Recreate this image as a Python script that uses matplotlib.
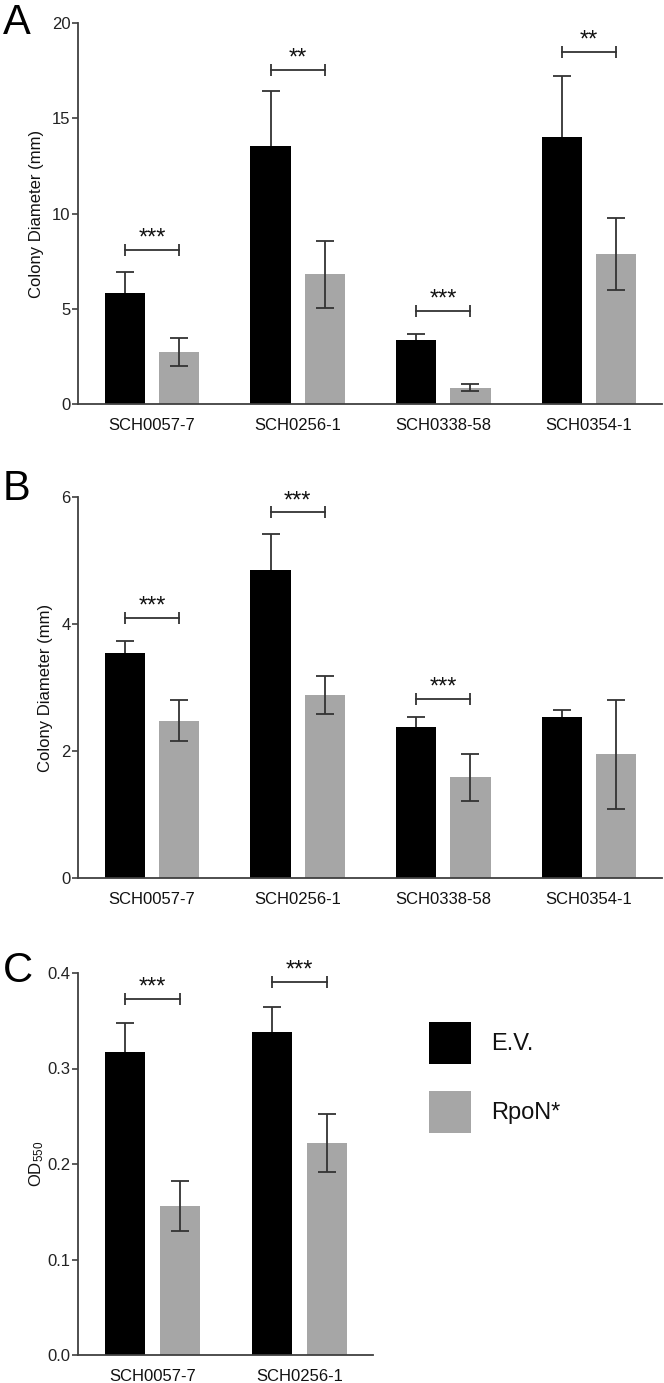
import numpy as np
import matplotlib
matplotlib.use('Agg')
import matplotlib.pyplot as plt
from matplotlib.patches import Rectangle

plt.rcParams['font.family'] = ['Liberation Sans', 'DejaVu Sans']
plt.rcParams['mathtext.default'] = 'regular'

# --- data ---
cepas = ['SCH0057-7', 'SCH0256-1', 'SCH0338-58', 'SCH0354-1']

a_ev = [5.82, 13.55, 3.35, 14.03]
a_ev_err = [1.13, 2.89, 0.35, 3.17]
a_rpon = [2.72, 6.8, 0.86, 7.85]
a_rpon_err = [0.73, 1.74, 0.18, 1.89]
a_sig_y = [8.1, 17.55, 4.9, 18.5]
a_sig = ['***', '**', '***', '**']

b_ev = [3.54, 4.85, 2.38, 2.53]
b_ev_err = [0.20, 0.57, 0.16, 0.11]
b_rpon = [2.48, 2.88, 1.59, 1.95]
b_rpon_err = [0.33, 0.30, 0.37, 0.86]
b_sig_y = [4.1, 5.76, 2.82, None]
b_sig = ['***', '***', '***', None]

cepas_c = ['SCH0057-7', 'SCH0256-1']
c_ev = [0.317, 0.338]
c_ev_err = [0.031, 0.026]
c_rpon = [0.156, 0.222]
c_rpon_err = [0.026, 0.030]
c_sig_y = [0.373, 0.391]
c_sig = ['***', '***']

grupos = ['E.V.', 'RpoN*']

negro = '#000000'
gris = '#a6a6a6'
linea = '#333333'

W, H = 664, 1383
fig = plt.figure(figsize=(W / 100, H / 100), dpi=100)


def caja(x0, x1, ytop, ybot):
    return [x0 / W, 1 - ybot / H, (x1 - x0) / W, (ybot - ytop) / H]


def panel(ax, etiquetas, ev, ev_err, rp, rp_err, sig_y, sig, ylim, yticks, fmt,
          ylabel, xmax, lpad):
    x = np.arange(len(etiquetas))
    off = 0.186
    w = 0.276
    # black bars hide the lower half of their error bar
    ax.errorbar(x - off, ev, yerr=ev_err, fmt='none', ecolor=linea, elinewidth=1.3,
                capsize=6.5, capthick=1.3, zorder=1)
    ax.bar(x - off, ev, w, color=negro, zorder=2)
    ax.bar(x + off, rp, w, color=gris, zorder=2)
    ax.errorbar(x + off, rp, yerr=rp_err, fmt='none', ecolor=linea, elinewidth=1.3,
                capsize=6.5, capthick=1.3, zorder=3)
    for i, (yy, s) in enumerate(zip(sig_y, sig)):
        if yy is None:
            continue
        ax.plot([i - off, i + off], [yy, yy], color=linea, lw=1.3, marker='|',
                markersize=9, markeredgewidth=1.3, zorder=4)
        ax.annotate(s, (i, yy), xytext=(0, 0), textcoords='offset points',
                    ha='center', va='bottom', fontsize=17, color='#111111')
    ax.set_xlim(-0.507, xmax)
    ax.set_ylim(*ylim)
    ax.set_yticks(yticks)
    ax.set_yticklabels([fmt.format(v) for v in yticks])
    ax.set_xticks(x)
    ax.set_xticklabels(etiquetas)
    ax.spines['top'].set_visible(False)
    ax.spines['right'].set_visible(False)
    for s in ['left', 'bottom']:
        ax.spines[s].set_color('#404040')
        ax.spines[s].set_linewidth(1.3)
    ax.tick_params(axis='y', length=4.3, width=1.2, color='#404040', pad=1,
                   labelsize=12, labelcolor='#222222')
    ax.tick_params(axis='x', length=0, pad=10, labelsize=12, labelcolor='#111111')
    ax.set_ylabel(ylabel, fontsize=12, color='#111111', labelpad=lpad)


ax_a = fig.add_axes(caja(78, 662, 23, 404))
panel(ax_a, cepas, a_ev, a_ev_err, a_rpon, a_rpon_err, a_sig_y, a_sig,
      (0, 20), [0, 5, 10, 15, 20], '{:g}', 'Colony Diameter (mm)', 3.5, 6)

ax_b = fig.add_axes(caja(78, 662, 497, 878))
panel(ax_b, cepas, b_ev, b_ev_err, b_rpon, b_rpon_err, b_sig_y, b_sig,
      (0, 6), [0, 2, 4, 6], '{:g}', 'Colony Diameter (mm)', 3.5, 6)

ax_c = fig.add_axes(caja(78, 373, 973, 1355))
panel(ax_c, cepas_c, c_ev, c_ev_err, c_rpon, c_rpon_err, c_sig_y, c_sig,
      (0, 0.4), [0.0, 0.1, 0.2, 0.3, 0.4], '{:.1f}', 'OD$_{550}$', 1.5, 1)

fig.text(0.004, 1 - 34 / H, 'A', fontsize=30, va='baseline')
fig.text(0.004, 1 - 500 / H, 'B', fontsize=30, va='baseline')
fig.text(0.004, 1 - 982 / H, 'C', fontsize=30, va='baseline')

# legend: square swatches next to panel C
for k, (nombre, col) in enumerate(zip(grupos, [negro, gris])):
    ytop = 1022 + k * 69
    fig.add_artist(Rectangle((429 / W, 1 - (ytop + 42) / H), 42 / W, 42 / H,
                             transform=fig.transFigure, facecolor=col, edgecolor='none'))
    fig.text(491 / W, 1 - (ytop + 22) / H, nombre, fontsize=17, va='center',
             ha='left', color='#111111')

plt.savefig('out.png', dpi=100)
